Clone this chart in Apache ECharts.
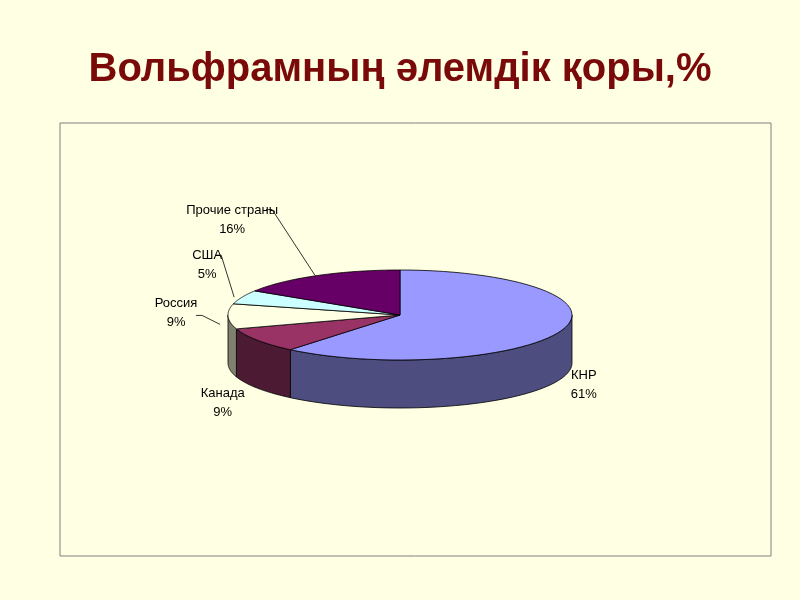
<!DOCTYPE html>
<html><head><meta charset="utf-8">
<script src="https://cdn.jsdelivr.net/npm/echarts@6/dist/echarts.min.js"></script>
<style>html,body{margin:0;background:#FFFFE3;}#c{width:800px;height:600px;}</style>
</head><body><div id="c"></div>
<script>
const categories = ['КНР','Канада','Россия','США','Прочие страны'];
const values = [61, 9, 9, 5, 16];
const topColors = ['#9999FF','#993366','#FFFFE3','#CCFFFF','#660066'];
const sideColors = ['#4D4D80','#4D1A33','#80806F','#668080','#330033'];
// label offsets relative to slice mid-point on rim (style only)
const labelOffsets = [[22,55],[-35,63],[-52,-3],[-35,-32],[-85,-56]];
const leader = [false,false,true,true,true];

const chart = echarts.init(document.getElementById('c'));
const total = values.reduce((a,b)=>a+b,0);
const starts=[]; let acc=0; values.forEach(v=>{starts.push(acc/total*360); acc+=v;});
const cx=400, cy=315, rx=172, ry=45, depth=48;
const pt=(deg,dy=0)=>{const r=deg*Math.PI/180;return [cx+rx*Math.sin(r), cy-ry*Math.cos(r)+dy];};
const data = values.map((v,i)=>[i,v]);

function sideItem(params, api){
  const i=api.value(0); const a0=starts[i], a1=a0+api.value(1)/total*360;
  const s=Math.max(a0,90), e=Math.min(a1,270);
  if(e<=s) return null;
  const top=[],bot=[];
  for(let k=0;k<=40;k++){const a=s+(e-s)*k/40; top.push(pt(a)); bot.push(pt(a,depth));}
  const pts=top.concat(bot.reverse());
  return {type:'group',children:[{type:'polygon',shape:{points:pts},style:{fill:sideColors[i],stroke:'#000',lineWidth:0.8}}]};
}
function topItem(params, api){
  const i=api.value(0); const a0=starts[i], a1=a0+api.value(1)/total*360;
  const pts=[[cx,cy]];
  for(let k=0;k<=60;k++) pts.push(pt(a0+(a1-a0)*k/60));
  const mid=(a0+a1)/2; const m=pt(mid);
  const lx=m[0]+labelOffsets[i][0], ly=m[1]+labelOffsets[i][1];
  const children=[{type:'polygon',shape:{points:pts},style:{fill:topColors[i],stroke:'#000',lineWidth:0.8}}];
  const pct=Math.round(api.value(1)/total*100)+'%';
  children.push({type:'text',style:{text:categories[api.value(0)]+'\n'+pct,x:lx,y:ly,align:'center',verticalAlign:'middle',font:'13px Arial',fill:'#000',lineHeight:19}});
  if(leader[i]){
    const ex=lx+(i===4?40:i===3?14:26), ey=ly-(i===4?10:i===3?10:-2);
    children.push({type:'polyline',shape:{points:[[ex-6,ey],[ex,ey],[m[0]-(i===4?2:8),m[1]+(i===2?8:0)]]},style:{stroke:'#000',lineWidth:0.8,fill:null}});
  }
  return {type:'group',children};
}
chart.setOption({
  backgroundColor:'#FFFFE3',
  title:{text:'Вольфрамның әлемдік қоры,%',left:'center',top:45,textStyle:{fontFamily:'Arial',fontSize:40,fontWeight:'bold',color:'#7A0A0A',textShadowColor:'rgba(0,0,0,0.35)',textShadowOffsetX:2,textShadowOffsetY:2}},
  graphic:[{type:'rect',shape:{x:60,y:123,width:711,height:433},style:{fill:'#FFFFE3',stroke:'#808080',lineWidth:1},z:-10}],
  series:[
    {type:'custom',coordinateSystem:'none',renderItem:sideItem,data:data,z:2},
    {type:'custom',coordinateSystem:'none',renderItem:topItem,data:data,z:3}
  ]
});
</script></body></html>
